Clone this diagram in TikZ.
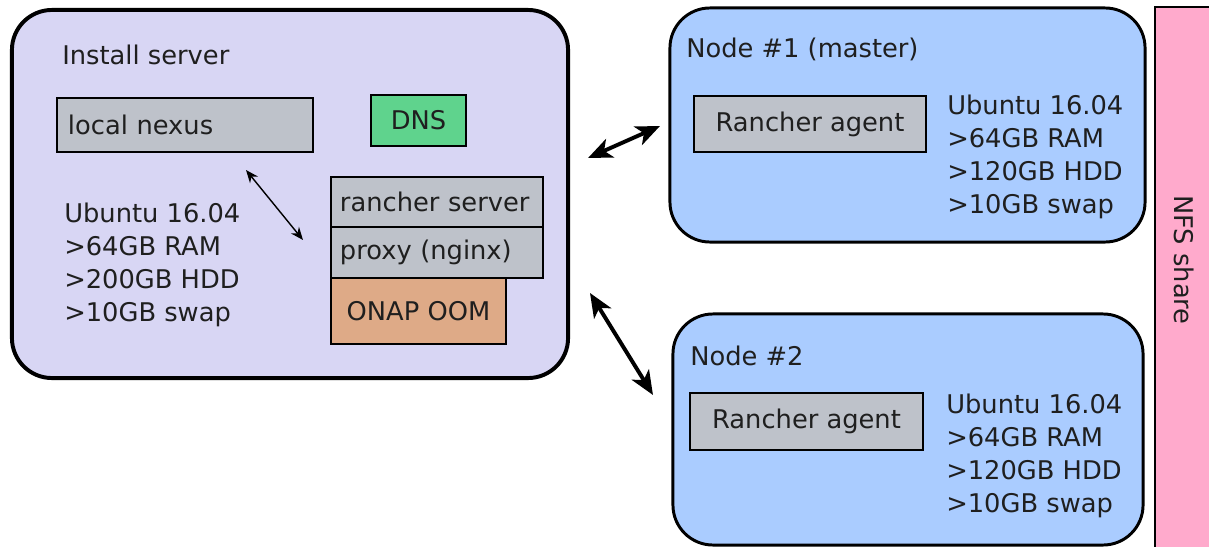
\documentclass[tikz,border=0pt]{standalone}
\usepackage{fontspec}
\setmainfont{DejaVu Sans}
\usepackage{xcolor}
\usepackage{tikz}
\usetikzlibrary{arrows.meta}
\definecolor{srvbg}{RGB}{216,214,244}
\definecolor{nodebg}{RGB}{170,204,255}
\definecolor{boxgray}{RGB}{190,194,202}
\definecolor{dnsgreen}{RGB}{95,211,141}
\definecolor{oomorange}{RGB}{222,170,135}
\definecolor{nfspink}{RGB}{255,170,204}
\colorlet{ink}{black!88}
\tikzstyle{host}=[draw=black,rounded corners=1cm,line width=2.1pt,inner sep=0pt]
\tikzstyle{svc}=[draw=black,line width=1.6pt,inner sep=0pt]
\tikzstyle{title}=[anchor=base west,inner sep=0pt]
\tikzstyle{spec}=[anchor=north west,inner sep=0pt,align=left]
\tikzstyle{biglink}=[{Stealth[length=6mm,width=5mm,inset=1.6mm]}-{Stealth[length=6mm,width=5mm,inset=1.6mm]},line width=2.8pt]
\tikzstyle{thinlink}=[{Stealth[length=3.2mm,width=2.6mm]}-{Stealth[length=3.2mm,width=2.6mm]},line width=1pt]

\begin{document}
\begin{tikzpicture}[x=0.025cm,y=-0.025cm,font=\fontsize{18.3}{23.5}\selectfont,text=ink]
\useasboundingbox (0,0) rectangle (1209,546);
			% install server
			\node[host,fill=srvbg,line width=2.8pt,minimum width=13.9cm,minimum height=9.2cm] (install) at (290,194) {};
			\node[title] (install title) at (62,64) {Install server};
			\node[svc,fill=boxgray,minimum width=6.4cm,minimum height=1.35cm,text width=5.85cm,align=left] (nexus) at (185,125) {local nexus};
			\node[svc,fill=dnsgreen,minimum width=2.375cm,minimum height=1.275cm] (dns) at (418.5,120.5) {DNS};
			\node[svc,fill=boxgray,minimum width=5.3cm,minimum height=1.25cm,text width=4.85cm,align=left] (rancher) at (437,202) {rancher server};
			\node[svc,fill=boxgray,minimum width=5.3cm,minimum height=1.275cm,text width=4.85cm,align=left] (proxy) at (437,252.5) {proxy (nginx)};
			\node[svc,fill=oomorange,minimum width=4.375cm,minimum height=1.65cm] (oom) at (418.5,311) {ONAP OOM};
			\node[spec] (install spec) at (64,203) {Ubuntu 16.04\\>64GB RAM\\>200GB HDD\\>10GB swap};
			% node 1
			\node[host,fill=nodebg,minimum width=11.875cm,minimum height=5.85cm] (node1) at (907.5,125) {};
			\node[title] (node1 title) at (686,57) {Node \#1 (master)};
			\node[svc,fill=boxgray,minimum width=5.8cm,minimum height=1.4cm] (agent1) at (810,124) {Rancher agent};
			\node[spec] (node1 spec) at (947,95) {Ubuntu 16.04\\>64GB RAM\\>120GB HDD\\>10GB swap};
			% node 2
			\node[host,fill=nodebg,minimum width=11.75cm,minimum height=5.775cm] (node2) at (908,429.5) {};
			\node[title] (node2 title) at (690,365) {Node \#2};
			\node[svc,fill=boxgray,minimum width=5.825cm,minimum height=1.425cm] (agent2) at (806.5,421.5) {Rancher agent};
			\node[spec] (node2 spec) at (946,394) {Ubuntu 16.04\\>64GB RAM\\>120GB HDD\\>10GB swap};
			% nfs
			\node[draw=black,fill=nfspink,line width=1.2pt,minimum width=1.5cm,minimum height=13.75cm,inner sep=0pt] (nfs) at (1185,282) {};
			\node[rotate=-90,inner sep=0pt] (nfs label) at (1184,260) {NFS share};
			% links
			\coordinate (nexus end) at (246,170);
			\coordinate (proxy end) at (303,240);
			\coordinate (install out1) at (588,158);
			\coordinate (node1 in) at (660,126);
			\coordinate (install out2) at (590,293);
			\coordinate (node2 in) at (653,395);
			\draw[thinlink] (nexus end) -- (proxy end);
			\draw[biglink] (install out1) -- (node1 in);
			\draw[biglink] (install out2) -- (node2 in);
		%	\node (hint) at (install.south) {};
		\end{tikzpicture}
\end{document}
